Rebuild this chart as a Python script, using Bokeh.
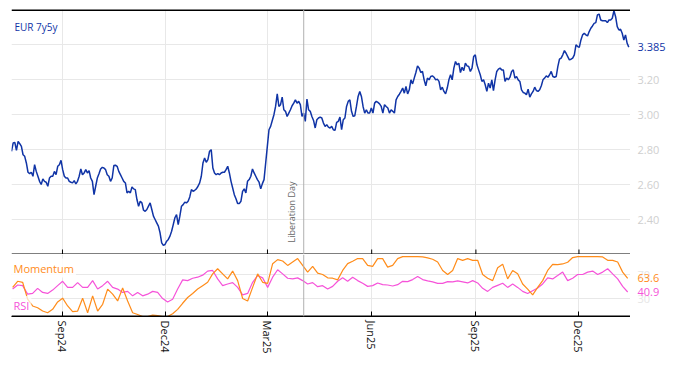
import math
import pandas as pd
from bokeh.plotting import figure
from bokeh.layouts import column, row
from bokeh.core.properties import value
from bokeh.models import (Range1d, DatetimeAxis, FixedTicker, MonthsTicker,
                          DatetimeTickFormatter, Span, Label, Grid)
from bokeh.embed import file_html
from bokeh.resources import INLINE

FONT = "Open Sans"
BLUE = "#1034a6"
ORANGE = "#ff8c1a"
PINK = "#f653d9"
GRID = "#e8e8e8"
BLACK = "#000000"

# ---------------- data ----------------
series_name = "EUR 7y5y"
eur_7y5y = [
    2.790, 2.837, 2.841, 2.795, 2.846, 2.833, 2.818, 2.770, 2.761, 2.723,
    2.670, 2.662, 2.670, 2.647, 2.713, 2.675, 2.647, 2.618, 2.600, 2.632,
    2.618, 2.613, 2.590, 2.637, 2.647, 2.647, 2.675, 2.656, 2.704, 2.713,
    2.738, 2.685, 2.647, 2.637, 2.637, 2.618, 2.613, 2.609, 2.622, 2.603,
    2.618, 2.647, 2.689, 2.656, 2.666, 2.685, 2.666, 2.679, 2.637, 2.618,
    2.542, 2.590, 2.637, 2.662, 2.689, 2.698, 2.694, 2.685, 2.656, 2.647,
    2.618, 2.637, 2.708, 2.710, 2.704, 2.675, 2.656, 2.637, 2.618, 2.609,
    2.552, 2.561, 2.552, 2.586, 2.575, 2.571, 2.514, 2.476, 2.504, 2.495,
    2.453, 2.447, 2.457, 2.476, 2.495, 2.457, 2.419, 2.400, 2.381, 2.362,
    2.324, 2.267, 2.252, 2.257, 2.276, 2.286, 2.305, 2.333, 2.371, 2.410,
    2.428, 2.371, 2.419, 2.476, 2.485, 2.499, 2.495, 2.504, 2.529, 2.571,
    2.561, 2.567, 2.575, 2.590, 2.609, 2.647, 2.723, 2.751, 2.727, 2.742,
    2.790, 2.799, 2.694, 2.666, 2.656, 2.662, 2.656, 2.666, 2.670, 2.670,
    2.685, 2.704, 2.666, 2.618, 2.580, 2.542, 2.518, 2.491, 2.491, 2.504,
    2.561, 2.575, 2.552, 2.618, 2.628, 2.647, 2.689, 2.666, 2.647, 2.628,
    2.613, 2.575, 2.605, 2.628, 2.723, 2.818, 2.913, 2.932, 2.966, 2.999,
    3.046, 3.118, 3.046, 3.056, 3.099, 3.027, 3.018, 2.989, 3.008, 3.027,
    3.050, 3.065, 3.084, 3.065, 3.075, 3.056, 2.989, 3.008, 2.961, 3.088,
    3.027, 3.018, 2.989, 2.966, 2.923, 2.970, 2.980, 2.985, 2.980, 2.951,
    2.932, 2.942, 2.928, 2.923, 2.932, 2.913, 2.909, 2.955, 2.961, 2.985,
    2.913, 2.970, 2.980, 3.046, 3.075, 3.084, 3.018, 2.989, 2.993, 3.046,
    3.103, 3.132, 3.103, 3.046, 3.008, 3.027, 3.008, 3.008, 3.037, 3.008,
    3.065, 3.075, 3.069, 3.061, 3.046, 3.008, 3.056, 3.046, 3.037, 3.008,
    3.027, 3.018, 3.008, 3.084, 3.103, 3.116, 3.132, 3.151, 3.122, 3.160,
    3.118, 3.141, 3.198, 3.175, 3.208, 3.240, 3.278, 3.265, 3.240, 3.246,
    3.198, 3.164, 3.208, 3.198, 3.217, 3.221, 3.213, 3.198, 3.202, 3.189,
    3.141, 3.156, 3.132, 3.118, 3.151, 3.198, 3.227, 3.198, 3.265, 3.303,
    3.284, 3.293, 3.240, 3.270, 3.251, 3.293, 3.278, 3.274, 3.246, 3.265,
    3.331, 3.341, 3.284, 3.255, 3.227, 3.189, 3.198, 3.170, 3.132, 3.179,
    3.151, 3.198, 3.137, 3.198, 3.246, 3.259, 3.265, 3.255, 3.255, 3.189,
    3.208, 3.198, 3.213, 3.246, 3.255, 3.208, 3.217, 3.198, 3.189, 3.141,
    3.126, 3.122, 3.113, 3.145, 3.099, 3.118, 3.132, 3.156, 3.137, 3.132,
    3.141, 3.164, 3.198, 3.208, 3.221, 3.213, 3.227, 3.246, 3.217, 3.213,
    3.217, 3.274, 3.316, 3.322, 3.341, 3.365, 3.350, 3.331, 3.312, 3.316,
    3.322, 3.341, 3.398, 3.388, 3.384, 3.426, 3.455, 3.464, 3.455, 3.449,
    3.474, 3.493, 3.506, 3.521, 3.525, 3.569, 3.574, 3.540, 3.536, 3.536,
    3.536, 3.525, 3.540, 3.540, 3.550, 3.593, 3.559, 3.502, 3.483, 3.487,
    3.464, 3.426, 3.455, 3.407, 3.385,
]
eur_start, eur_end = "2024-07-18", "2026-01-14"

momentum = [
    48.6, 58.8, 57.1, 28.9, 17.6, 14.7, 9.1, 6.3, 11.9, 24.3,
    30.6, 17.6, 8.0, 9.1, 30.6, 6.3, 34.5, 9.1, 20.4, 45.8,
    37.3, 26.0, 47.5, 26.0, 6.3, 3.4, 0.0, 0.0, 2.3, 1.7,
    0.0, 0.0, 4.6, 11.9, 22.1, 31.7, 38.5, 45.8, 51.5, 57.1,
    71.2, 79.7, 71.2, 62.8, 75.8, 59.9, 30.0, 26.0, 48.6, 71.2,
    57.1, 55.4, 88.2, 95.0, 92.7, 85.3, 91.0, 96.7, 85.3, 74.1,
    83.6, 72.4,
    70.1, 64.5, 63.9, 61.1, 76.9, 88.2, 92.1, 96.7, 96.7, 85.3,
    83.6, 96.7, 96.7, 82.5, 85.3, 96.7, 100.0, 100.0, 100.0, 100.0,
    99.5, 97.8, 95.5, 91.0, 76.9, 70.1, 76.9, 96.7, 93.8, 96.7,
    93.8, 93.8, 70.1, 63.9, 59.9, 81.4, 87.4, 62.8, 76.9, 71.2,
    54.3, 45.8, 36.2, 48.6, 59.9, 76.9, 87.1, 86.5, 87.7, 90.5,
    98.4, 100.0, 100.0, 100.0, 100.0, 100.0, 99.5, 93.8, 93.8, 91.0,
    74.1, 63.6,
]
rsi = [
    45.8, 52.6, 51.5, 37.3, 38.5, 47.0, 40.2, 38.5, 44.1, 51.5,
    58.8, 48.6, 48.6, 56.6, 48.6, 48.6, 59.9, 45.8, 51.5, 58.8,
    48.6, 45.8, 40.2, 41.9, 34.5, 40.2, 34.5, 37.3, 41.9, 40.2,
    30.0, 24.3, 28.9, 45.8, 61.1, 59.9, 63.9, 65.6, 69.0, 75.8,
    76.9, 62.8, 51.5, 54.3, 56.6, 48.6, 36.2, 38.5, 57.1, 68.4,
    64.5, 48.6, 65.6, 78.0, 71.2, 63.9, 62.8, 64.5, 59.9, 54.3,
    56.6, 49.8,
    51.5, 45.8, 50.3, 58.8, 64.5, 58.8, 65.6, 59.9, 55.4, 50.3,
    51.5, 56.0, 53.2, 52.6, 50.9, 53.2, 58.8, 58.2, 61.6, 66.7,
    61.6, 59.4, 57.7, 55.4, 55.4, 58.2, 57.7, 59.4, 57.7, 56.0,
    59.9, 56.0, 47.0, 41.9, 48.6, 52.0, 55.4, 48.6, 54.3, 48.6,
    41.9, 38.5, 43.0, 47.5, 54.3, 64.5, 62.8, 68.4, 74.1, 59.9,
    63.9, 70.1, 70.1, 74.1, 75.8, 70.1, 74.1, 79.7, 71.2, 62.8,
    50.3, 40.9,
]
ind_start, ind_end = "2024-07-19", "2026-01-13"

month_ticks = [2, 5, 8, 11]          # Mar, Jun, Sep, Dec (0-based months)
tick_dates = ["2024-09-01", "2024-12-01", "2025-03-01", "2025-06-01", "2025-09-01", "2025-12-01"]
eur_ticks = [2.4, 2.6, 2.8, 3.0, 3.2]
eur_grid = [2.4, 2.6, 2.8, 3.0, 3.2, 3.4]
ind_ticks = [30, 70]
event_date = "2025-04-02"
event_name = "Liberation Day"
x_start, x_end = "2024-07-18", "2026-01-15 12:00"


def ms(s):
    return pd.Timestamp(s).value / 1e6


dates_top = pd.date_range(eur_start, eur_end, periods=len(eur_7y5y))
dates_ind = pd.date_range(ind_start, ind_end, periods=len(momentum))

x_range = Range1d(ms(x_start), ms(x_end))
FW = 619
SIDE_W = 38
TOP_H = 245
BOT_H = 62
PAD_TOP = 9


def base(fw, fh, xr, yr, left=0, top_b=0):
    p = figure(frame_width=fw, frame_height=fh, x_range=xr, y_range=yr,
               x_axis_type=None, y_axis_location=None, toolbar_location=None,
               output_backend="svg", min_border_left=left, min_border_right=0,
               min_border_top=top_b, min_border_bottom=0)
    p.outline_line_color = None
    p.grid.visible = False
    return p


def frame_rule(p, y, w=2):
    # black border along the frame edge (half of the stroke is clipped by the frame)
    p.line(x=[x_range.start, x_range.end], y=[y, y], color=BLACK, line_width=w)


# ---------------- top panel ----------------
top_yr = Range1d(2.2, 3.6)
top = base(FW, TOP_H, x_range, top_yr, left=11, top_b=PAD_TOP)
top.add_layout(Grid(dimension=0, ticker=MonthsTicker(months=month_ticks), grid_line_color=GRID))
top.add_layout(Grid(dimension=1, ticker=FixedTicker(ticks=eur_grid), grid_line_color=GRID))

top.add_layout(Span(location=ms(event_date), dimension="height", line_color="#b0b0b0", line_width=1))
top.line(dates_top, eur_7y5y, color=BLUE, line_width=1.5)
frame_rule(top, top_yr.end, w=3)
frame_rule(top, top_yr.start)
# inward tick marks on the top panel's lower edge (half of each dash is clipped)
top.scatter(x=[ms(d) for d in tick_dates], y=[top_yr.start] * len(tick_dates), marker="dash",
            size=10, angle=math.pi / 2, line_color=BLACK, line_width=1)

top.add_layout(Label(x=ms(x_start), y=3.6, x_offset=0, y_offset=-7, text=series_name,
                     text_font=FONT, text_font_size="10px", text_color=BLUE,
                     text_baseline="top", background_fill_color="white", padding=3))
top.add_layout(Label(x=ms(event_date), y=2.2, x_offset=-6, y_offset=12, angle=math.pi / 2,
                     text=event_name, text_font=FONT, text_font_size="9px", text_color="#666666",
                     text_align="left", text_baseline="bottom"))

# right-hand labels of the top panel
top_side = base(SIDE_W, TOP_H, Range1d(0, 1), top_yr, top_b=PAD_TOP)
top_side.text(x=[0] * len(eur_ticks), y=eur_ticks, text=[f"{t:.2f}" for t in eur_ticks],
              x_offset=7, text_baseline="middle", text_font=value(FONT),
              text_font_size="11px", text_color="#cfcfcf")
top_side.text(x=[0], y=[eur_7y5y[-1]], text=[f"{eur_7y5y[-1]:.3f}"], x_offset=7,
              text_baseline="middle", text_font=value(FONT), text_font_size="11px",
              text_color=BLUE)

# ---------------- bottom panel ----------------
bot_yr = Range1d(0, 103.5)
bot = base(FW, BOT_H, x_range, bot_yr, left=11)
bot.add_layout(Grid(dimension=0, ticker=MonthsTicker(months=month_ticks), grid_line_color=GRID))
bot.add_layout(Grid(dimension=1, ticker=FixedTicker(ticks=ind_ticks), grid_line_color=GRID))

fmt = DatetimeTickFormatter(months="%b%y", days="%b%y", years="%b%y")
xb2 = DatetimeAxis(ticker=MonthsTicker(months=month_ticks), formatter=fmt,
                   axis_line_color=BLACK, axis_line_width=1, major_tick_line_color=BLACK,
                   major_tick_in=5, major_tick_out=0, minor_tick_line_color=None,
                   major_label_orientation="vertical", major_label_text_font=FONT,
                   major_label_text_font_size="11px", major_label_text_color="#111111",
                   major_label_standoff=4)
bot.add_layout(xb2, "below")

bot.add_layout(Span(location=ms(event_date), dimension="height", line_color="#b0b0b0", line_width=1))
bot.line(dates_ind, rsi, color=PINK, line_width=1.2)
bot.line(dates_ind, momentum, color=ORANGE, line_width=1.2)
frame_rule(bot, bot_yr.start)

bot.add_layout(Label(x=ms(x_start), y=103.5, x_offset=0, y_offset=-4, text="Momentum",
                     text_font=FONT, text_font_size="11px", text_color=ORANGE,
                     text_baseline="top", background_fill_color="white",
                     background_fill_alpha=0.85, padding=2))
bot.add_layout(Label(x=ms(x_start), y=0, x_offset=0, y_offset=11, text="RSI",
                     text_font=FONT, text_font_size="11px", text_color=PINK,
                     text_baseline="middle", background_fill_color="white",
                     background_fill_alpha=0.7, padding=2))

bot_side = base(SIDE_W, BOT_H, Range1d(0, 1), bot_yr)
bot_side.text(x=[0] * len(ind_ticks), y=ind_ticks, text=[str(t) for t in ind_ticks],
              x_offset=7, text_baseline="middle", text_font=value(FONT),
              text_font_size="11px", text_color="#e6e6e6")
bot_side.text(x=[0], y=[momentum[-1]], text=[f"{momentum[-1]:.1f}"], x_offset=7,
              text_baseline="middle", text_font=value(FONT), text_font_size="11px",
              text_color=ORANGE)
bot_side.text(x=[0], y=[rsi[-1]], text=[f"{rsi[-1]:.1f}"], x_offset=7,
              text_baseline="middle", text_font=value(FONT), text_font_size="11px",
              text_color=PINK)

layout = column(row(top, top_side, spacing=0), row(bot, bot_side, spacing=0), spacing=0)
open("out.html", "w").write(file_html(layout, INLINE))
